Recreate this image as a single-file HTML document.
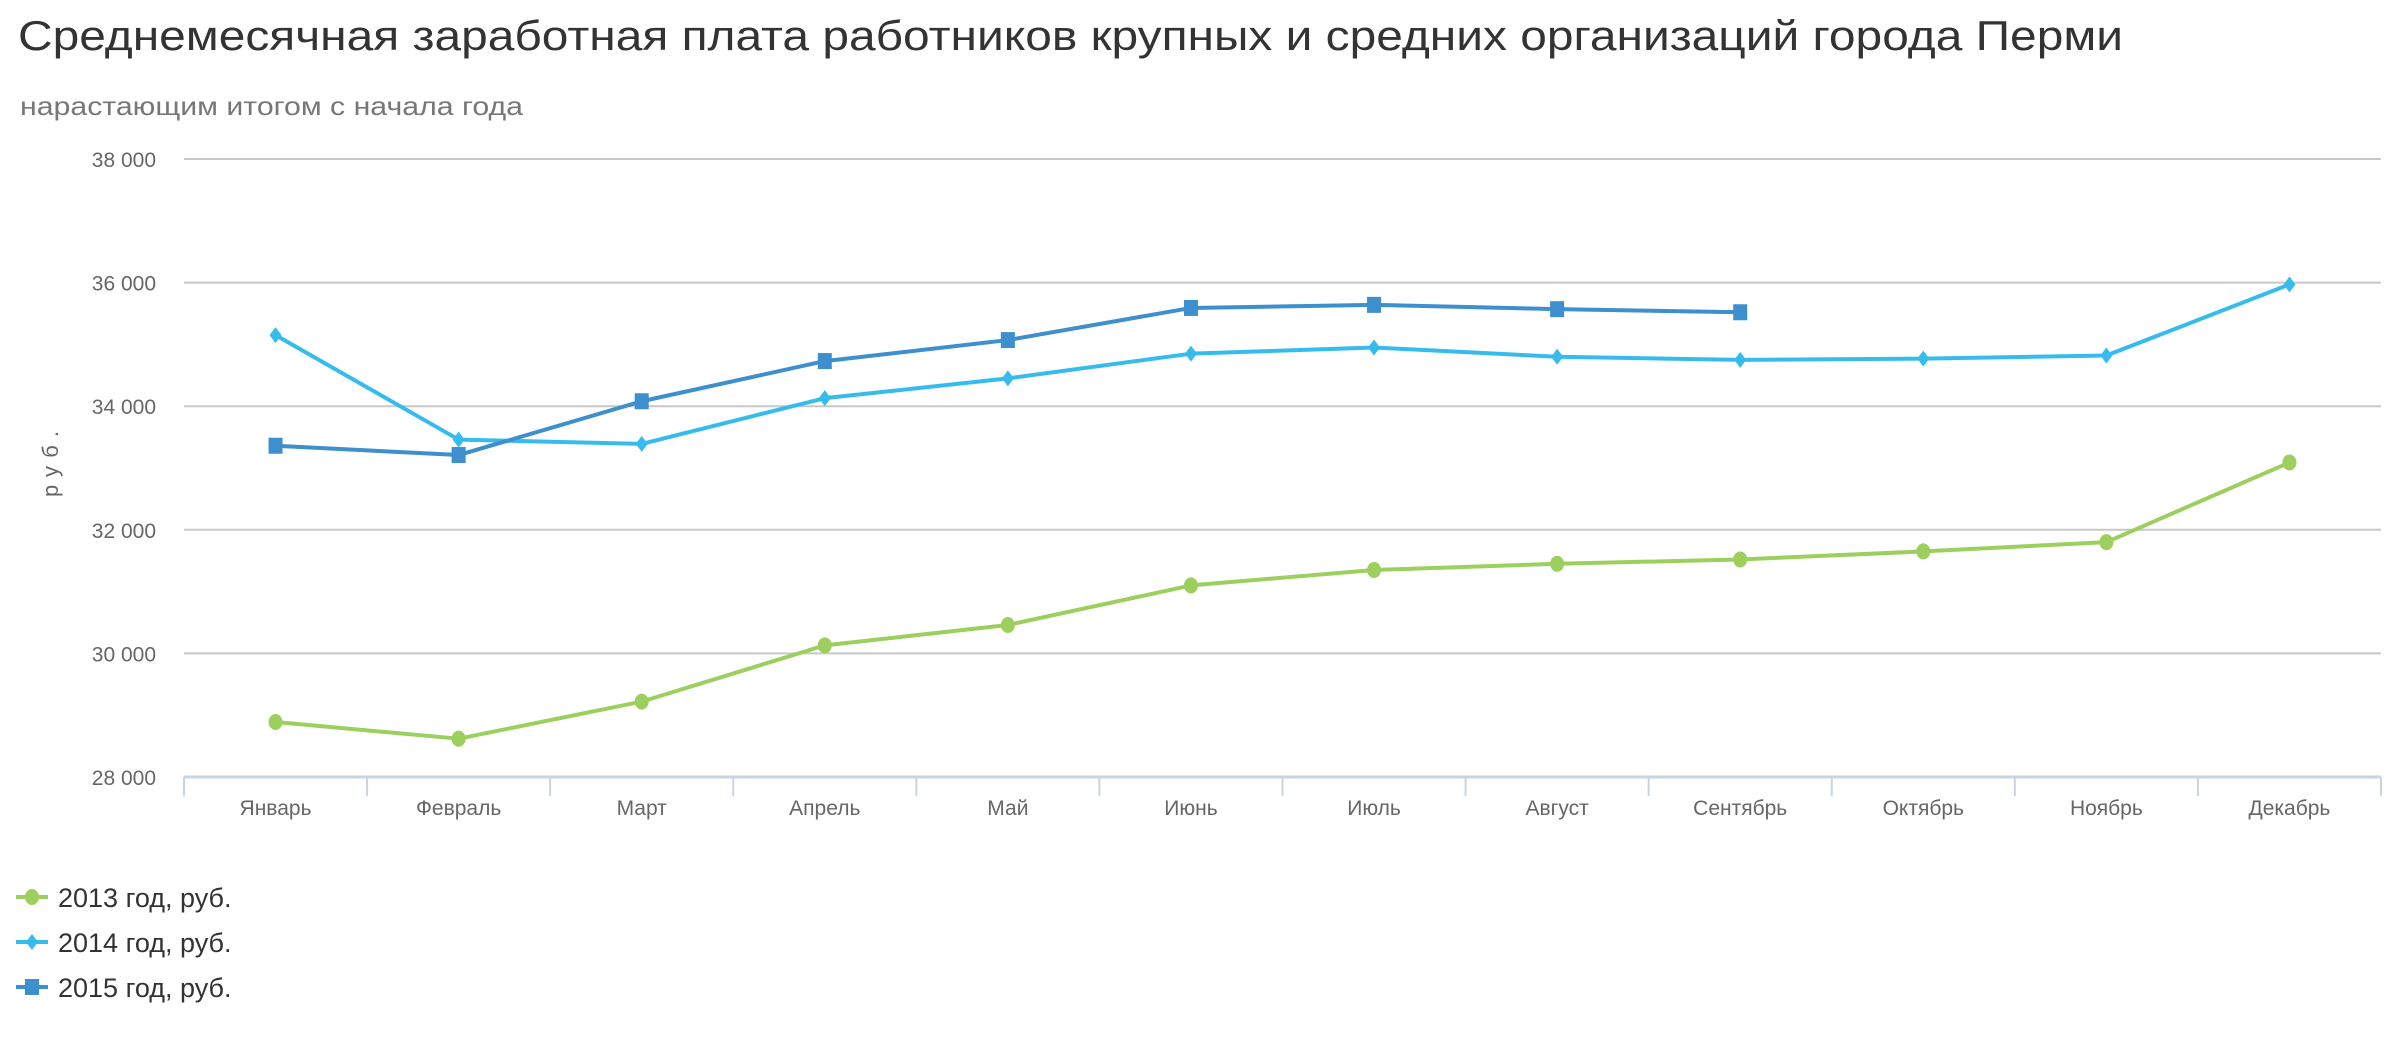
<!DOCTYPE html>
<html><head><meta charset="utf-8"><style>
html,body{margin:0;padding:0;background:#fff;width:2400px;height:1040px;overflow:hidden}
svg{display:block;font-family:"Liberation Sans","DejaVu Sans",sans-serif}
</style></head><body>
<svg id="chart" width="2400" height="1040" xmlns="http://www.w3.org/2000/svg">
<text x="18" y="50" font-size="42" fill="#333" textLength="2105" lengthAdjust="spacingAndGlyphs">Среднемесячная заработная плата работников крупных и средних организаций города Перми</text>
<text x="20" y="115" font-size="26" fill="#777" textLength="503" lengthAdjust="spacingAndGlyphs">нарастающим итогом с начала года</text>
<text transform="translate(58,460) rotate(-90)" text-anchor="middle" font-size="22" fill="#666" letter-spacing="8">руб.</text>
<g id="grid"></g><g id="xaxis"></g><g id="series"></g><g id="legend"></g>
</svg>
<script>
const categories=["Январь","Февраль","Март","Апрель","Май","Июнь","Июль","Август","Сентябрь","Октябрь","Ноябрь","Декабрь"];
const yTicks=[28000,30000,32000,34000,36000,38000];
const yTickLabels=["28 000","30 000","32 000","34 000","36 000","38 000"];
const seriesNames=["2013 год, руб.","2014 год, руб.","2015 год, руб."];
const values2013=[28890,28620,29220,30130,30460,31100,31350,31450,31520,31650,31800,33090];
const values2014=[35150,33460,33390,34130,34450,34850,34950,34800,34750,34770,34820,35970];
const values2015=[33360,33210,34080,34730,35070,35590,35640,35570,35520];
const NS="http://www.w3.org/2000/svg";
const L=184,R=2381,T=159,B=777,ymin=28000,ymax=38000;
const bw=(R-L)/categories.length;
function x(i){return L+bw*(i+0.5);}
function y(v){return B-(v-ymin)/(ymax-ymin)*(B-T);}
function mk(tag,attrs,parent){const e=document.createElementNS(NS,tag);for(const k in attrs)e.setAttribute(k,attrs[k]);parent.appendChild(e);return e;}
const grid=document.getElementById('grid');
yTicks.forEach((v,i)=>{
  if(i>0){const g=mk('line',{x1:L,x2:R,y1:y(v),y2:y(v),stroke:'#c8c8c8','stroke-width':2},grid);
  
  }
  const t=mk('text',{x:156,y:y(v)+8,'text-anchor':'end','font-size':21,fill:'#666'},grid);
  t.textContent=yTickLabels[i];
  
  
});
const xa=document.getElementById('xaxis');
const axl=mk('line',{x1:L,x2:R,y1:B,y2:B,stroke:'#c6d4e4','stroke-width':3},xa);


for(let i=0;i<=categories.length;i++){
  const tk=mk('line',{x1:L+bw*i,x2:L+bw*i,y1:B,y2:B+19,stroke:'#c6d4e4','stroke-width':2},xa);
  
  
}
categories.forEach((c,i)=>{
  const t=mk('text',{x:x(i),y:815,'text-anchor':'middle','font-size':21,fill:'#666'},xa);
  t.textContent=c;
  
  
});
const colors=['#9dcf5f','#35bced','#3d8fcd'];
const data=[values2013,values2014,values2015];
const shapes=['circle','diamond','square'];
function marker(g,shape,cx,cy,col,s){
  let m;
  if(shape==='circle')m=mk('ellipse',{cx:cx,cy:cy,rx:7*s,ry:8*s,fill:col},g);
  else if(shape==='diamond')m=mk('path',{d:`M${cx},${cy-8*s}L${cx+6*s},${cy}L${cx},${cy+8*s}L${cx-6*s},${cy}Z`,fill:col},g);
  else m=mk('rect',{x:cx-7*s,y:cy-8*s,width:14*s,height:16*s,fill:col},g);
  return m;
}
const sg=document.getElementById('series');
data.forEach((vals,si)=>{
  const g=mk('g',{},sg);
  
  
  const pts=vals.map((v,i)=>x(i)+','+y(v)).join(' ');
  const pl=mk('polyline',{points:pts,fill:'none',stroke:colors[si],'stroke-width':4,'stroke-linejoin':'round'},g);
  
  
  vals.forEach((v,i)=>{
    const m=marker(g,shapes[si],x(i),y(v),colors[si],1);
    
    
  });
});
const lg=document.getElementById('legend');
const ly=[897,942,987];
seriesNames.forEach((n,i)=>{
  const g=mk('g',{},lg);
  
  
  mk('line',{x1:16,x2:48,y1:ly[i],y2:ly[i],stroke:colors[i],'stroke-width':4},g);
  marker(g,shapes[i],32,ly[i],colors[i],1);
  const t=mk('text',{x:58,y:ly[i]+10,'font-size':27,fill:'#333'},g);
  t.textContent=n;
  
  
});
</script>
</body></html>
